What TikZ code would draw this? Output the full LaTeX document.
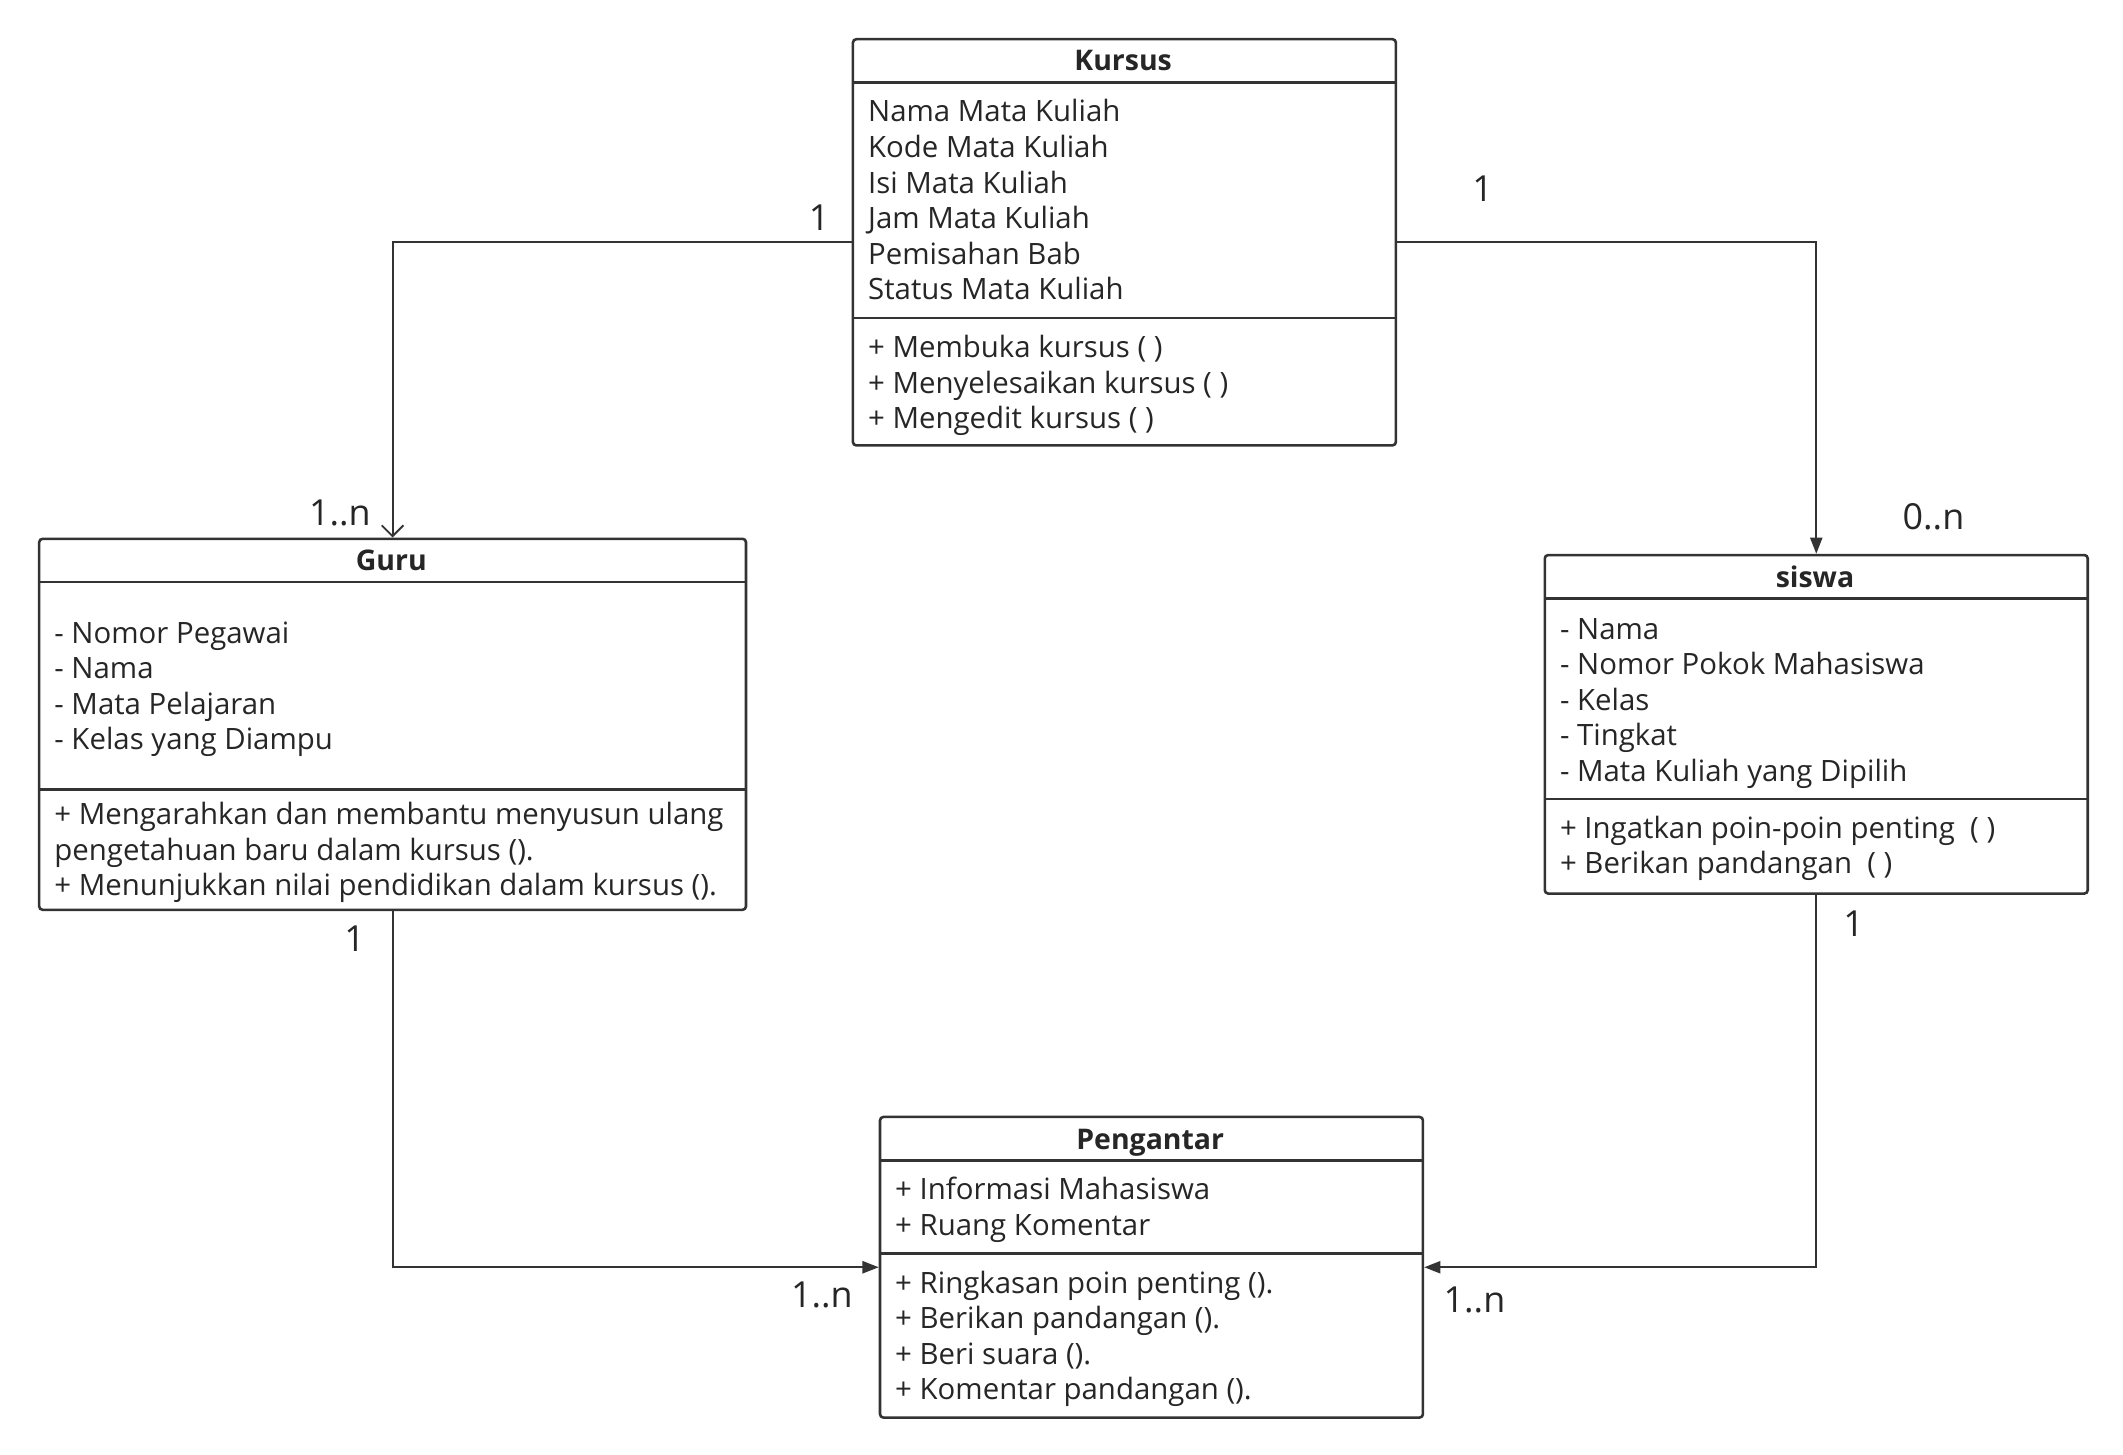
\documentclass[tikz,border=0pt]{standalone}
\usepackage{fontspec}
\setmainfont{Open Sans}
\usetikzlibrary{arrows.meta,calc}
\definecolor{ln}{HTML}{333333}
\definecolor{tx}{HTML}{262626}
\begin{document}
\begin{tikzpicture}[x=1pt,y=-1pt,
  classbox/.style={draw=ln, line width=1.9pt, rounded corners=2.5pt, inner sep=0pt, anchor=north west},
  sepline/.style={draw=ln, line width=1.9pt},
  txt/.style={text=tx, inner sep=0pt, anchor=base west, font=\fontsize{21.7}{24}\selectfont},
  ttl/.style={text=tx, inner sep=0pt, anchor=base, font=\fontsize{21}{24}\selectfont\bfseries},
  mult/.style={text=tx, inner sep=0pt, anchor=base, font=\fontsize{26.5}{30}\selectfont},
  conn/.style={draw=ln, line width=1.4pt},
  filled/.style={-{Triangle[length=12pt,width=9pt]}},
  openv/.style={-{Straight Barb[length=8pt,width=16pt,line width=1.4pt]}}
]
\useasboundingbox (0,0) rectangle (1568,1074);
\fill[white] (0,0) rectangle (1568,1074);

% ---------- Kursus ----------
\node[classbox, minimum width=401pt, minimum height=300pt] (kursus) at (629,28) {};
\draw[sepline] ($(kursus.north west)+(0,33)$) -- ($(kursus.north east)+(0,33)$);
\draw[sepline] ($(kursus.north west)+(0,207)$) -- ($(kursus.north east)+(0,207)$);
\node[ttl] (kursusT) at (829.5,52) {Kursus};
\foreach \t [count=\i] in {Nama Mata Kuliah, Kode Mata Kuliah, Isi Mata Kuliah, Jam Mata Kuliah, Pemisahan Bab, Status Mata Kuliah}
  \node[txt] (ka\i) at (641,{90+(\i-1)*26.3}) {\t};
\foreach \t [count=\i] in {+ Membuka kursus ( ), + Menyelesaikan kursus ( ), + Mengedit kursus ( )}
  \node[txt] (km\i) at (641,{264+(\i-1)*26.3}) {\t};

% ---------- Guru ----------
\node[classbox, minimum width=522pt, minimum height=274pt] (guru) at (28,397) {};
\draw[sepline] ($(guru.north west)+(0,33)$) -- ($(guru.north east)+(0,33)$);
\draw[sepline] ($(guru.north west)+(0,186)$) -- ($(guru.north east)+(0,186)$);
\node[ttl] (guruT) at (289,421) {Guru};
\foreach \t [count=\i] in {- Nomor Pegawai, - Nama, - Mata Pelajaran, - Kelas yang Diampu}
  \node[txt] (ga\i) at (40,{475+(\i-1)*26.3}) {\t};
\foreach \t [count=\i] in {+ Mengarahkan dan membantu menyusun ulang, pengetahuan baru dalam kursus ()., + Menunjukkan nilai pendidikan dalam kursus ().}
  \node[txt] (gm\i) at (40,{609+(\i-1)*26.3}) {\t};

% ---------- siswa ----------
\node[classbox, minimum width=401pt, minimum height=250pt] (siswa) at (1140,409) {};
\draw[sepline] ($(siswa.north west)+(0,33)$) -- ($(siswa.north east)+(0,33)$);
\draw[sepline] ($(siswa.north west)+(0,181)$) -- ($(siswa.north east)+(0,181)$);
\node[ttl] (siswaT) at (1340.5,434) {siswa};
\foreach \t [count=\i] in {- Nama, - Nomor Pokok Mahasiswa, - Kelas, - Tingkat, - Mata Kuliah yang Dipilih}
  \node[txt] (sa\i) at (1152,{472+(\i-1)*26.3}) {\t};
\node[txt] (sm1) at (1152,619) {+ Ingatkan poin-poin penting\ \ ( )};
\node[txt] (sm2) at (1152,645.3) {+ Berikan pandangan\ \ ( )};

% ---------- Pengantar ----------
\node[classbox, minimum width=401pt, minimum height=222pt] (peng) at (649,824) {};
\draw[sepline] ($(peng.north west)+(0,33)$) -- ($(peng.north east)+(0,33)$);
\draw[sepline] ($(peng.north west)+(0,102)$) -- ($(peng.north east)+(0,102)$);
\node[ttl] (pengT) at (849.5,849) {Pengantar};
\foreach \t [count=\i] in {+ Informasi Mahasiswa, + Ruang Komentar}
  \node[txt] (pa\i) at (661,{886+(\i-1)*26.3}) {\t};
\foreach \t [count=\i] in {+ Ringkasan poin penting ()., + Berikan pandangan ()., + Beri suara ()., + Komentar pandangan ().}
  \node[txt] (pm\i) at (661,{955+(\i-1)*26.3}) {\t};

% ---------- connectors ----------
\draw[conn, openv] (kursus.west) -- (kursus.west -| guru.north) -- (guru.north);
\draw[conn, filled] (kursus.east) -- (kursus.east -| siswa.north) -- (siswa.north);
\draw[conn, filled] (guru.south) -- (guru.south |- peng.west) -- (peng.west);
\draw[conn, filled] (siswa.south) -- (siswa.south |- peng.east) -- (peng.east);

% ---------- multiplicities ----------
\node[mult] (m1) at (605,170) {1};
\node[mult] (m2) at (251,388) {1..n};
\node[mult] (m3) at (1095,149) {1};
\node[mult] (m4) at (1428,391) {0..n};
\node[mult] (m5) at (262,703) {1};
\node[mult] (m6) at (607,966) {1..n};
\node[mult] (m7) at (1369,692) {1};
\node[mult] (m8) at (1089,969) {1..n};
\end{tikzpicture}
\end{document}
